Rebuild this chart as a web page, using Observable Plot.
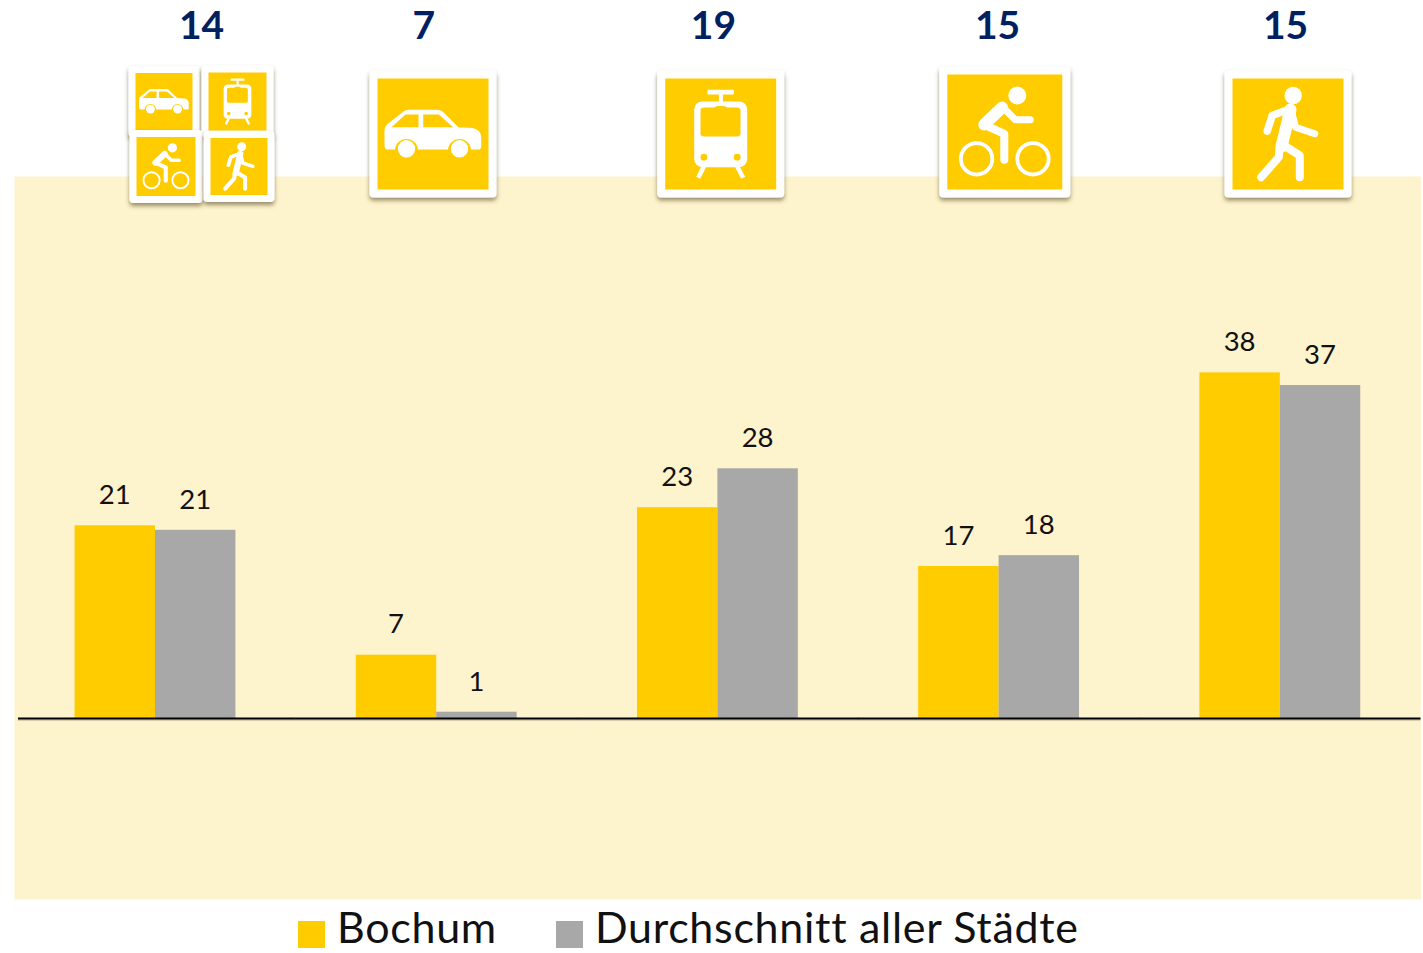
<!DOCTYPE html>
<html lang="de">
<head>
<meta charset="utf-8">
<title>Bochum</title>
<script src="https://cdn.jsdelivr.net/npm/d3@7"></script>
<script src="https://cdn.jsdelivr.net/npm/@observablehq/plot@0.6"></script>
<style>
  html, body { margin: 0; padding: 0; background: #fff; }
  #chart svg { display: block; }
  #legend { position: relative; height: 48px; font-family: Lato, sans-serif; font-size: 43px; letter-spacing: 0.7px; line-height: 48px; color: #111; display: flex; align-items: center; padding-left: 298px; }
  #legend .item { display: flex; align-items: center; }
  #legend .sw { width: 27px; height: 27px; margin-right: 12px; margin-top: 10px; }
  #legend .lab { position: relative; top: -2px; }
  #legend .item + .item { margin-left: 59px; }
</style>
</head>
<body>
<div id="chart"></div>
<div id="legend"></div>
<script>
const categories = ["Alle", "Auto", "ÖPNV", "Rad", "Fuß"];
const seriesNames = ["Bochum", "Durchschnitt aller Städte"];
const bochumValues = [21.3, 7.0, 23.3, 16.8, 38.2];
const averageValues = [20.8, 0.7, 27.6, 18.0, 36.8];
const bochumLabels = ["21", "7", "23", "17", "38"];
const averageLabels = ["21", "1", "28", "18", "37"];
const headlineValues = ["14", "7", "19", "15", "15"];

const YELLOW = "#FFCC00", GREY = "#A8A8A8", PANEL = "#FDF3CD", NAVY = "#002060";

const rows = categories.flatMap((category, i) => [
  {category, series: seriesNames[0], value: bochumValues[i], label: bochumLabels[i]},
  {category, series: seriesNames[1], value: averageValues[i], label: averageLabels[i]}
]);

// Pictograms; car, tram and walker are drawn on a 111-unit yellow square, the bike on 115 units
const line = (d, w) => `<path d="${d}" fill="none" stroke="#fff" stroke-width="${w}" stroke-linecap="round" stroke-linejoin="round"/>`;
const glyphUnits = {car: 111, tram: 111, walk: 111, bike: 115};
const glyphs = {
  car: `<path fill="#fff" d="M10 71Q7 71 7 66V52Q7 47 12 44L26 33Q28 31.3 31 31.3H60Q63 31.3 65 33L81 48.7L95 49.5Q103.7 51 103.7 59V68Q103.7 71 101 71Z"/>
        <path fill="${YELLOW}" d="M14 48.7L28 36H41V48.7ZM45.7 36H61.3L75.7 48.7H45.7Z"/>
        <path fill="${YELLOW}" d="M17.5 72A11.5 11.5 0 0 1 40.5 72ZM70.5 72A11.5 11.5 0 0 1 93.5 72Z"/>
        <circle cx="29" cy="70.3" r="8.7" fill="#fff"/><circle cx="82" cy="70.3" r="8.7" fill="#fff"/>`,
  tram: `<rect x="42.3" y="11.3" width="26.4" height="4.7" fill="#fff" rx="0.8"/><rect x="53.7" y="15" width="4" height="9" fill="#fff"/>
        <rect x="29" y="23" width="53" height="65.7" rx="8" fill="#fff"/>
        <path fill="${YELLOW}" d="M39 29H49L52 27.5H59L62 29H72Q75.3 29 75.3 32V55Q75.3 58 72 58H39Q35.3 58 35.3 55V32Q35.3 29 39 29Z"/>
        <circle cx="38.7" cy="78.7" r="3.4" fill="${YELLOW}"/><circle cx="72" cy="78.7" r="3.4" fill="${YELLOW}"/>
        <path d="M38.7 88L33 99.3M72 88L78 99.3" stroke="#fff" stroke-width="4.5" fill="none"/>`,
  bike: `<circle cx="70" cy="21" r="9" fill="#fff"/>
        <circle cx="29.3" cy="84.3" r="15.7" fill="none" stroke="#fff" stroke-width="3.8"/><circle cx="85.7" cy="84.3" r="15.7" fill="none" stroke="#fff" stroke-width="3.8"/>
        ${line("M83 45.3H68L54.7 32", 7)}${line("M54.7 33L37 50", 12)}${line("M36.5 50L57 59.3V85.3", 8)}`,
  walk: `<circle cx="60.7" cy="17" r="8.7" fill="#fff"/>
        ${line("M34.7 52.7L39.7 37L58 30.3", 7.5)}${line("M58 31L49 68", 12)}${line("M59 33L63 48.7L82.3 55.3", 7)}
        ${line("M47 70L46.3 78.7L28.7 98.7", 8)}${line("M50 66L67.3 77V98.7", 8)}`
};

function iconUrl(glyph, box, border) {
  const pad = 14, tile = box + 2 * border, size = tile + 2 * pad, k = box / glyphUnits[glyph];
  const svg = `<svg xmlns="http://www.w3.org/2000/svg" width="${size}" height="${size}" viewBox="0 0 ${size} ${size}">
    <defs><filter id="s" x="-20%" y="-20%" width="140%" height="140%"><feDropShadow dx="0" dy="3" stdDeviation="2.2" flood-color="#4a3a10" flood-opacity="0.55"/></filter></defs>
    <rect x="${pad}" y="${pad}" width="${tile}" height="${tile}" rx="4" fill="#fff" filter="url(#s)"/>
    <g transform="translate(${pad + border} ${pad + border})"><rect width="${box}" height="${box}" fill="${YELLOW}"/><g transform="scale(${k})">${glyphs[glyph]}</g></g>
  </svg>`;
  return {url: "data:image/svg+xml," + encodeURIComponent(svg), size};
}

// Icon placement relative to each group's centre and the panel's top edge
const iconPlacement = [
  {category: "Alle", glyph: "car",  box: 57,  border: 7, dx: 8.5,  dy: -75},
  {category: "Alle", glyph: "tram", box: 58,  border: 7, dx: 82,   dy: -75},
  {category: "Alle", glyph: "bike", box: 59,  border: 7, dx: 10.5, dy: -10},
  {category: "Alle", glyph: "walk", box: 57,  border: 7, dx: 83.5, dy: -10},
  {category: "Auto", glyph: "car",  box: 111, border: 8, dx: -3.7, dy: -42.5},
  {category: "ÖPNV", glyph: "tram", box: 111, border: 8, dx: 2.8,  dy: -42.5},
  {category: "Rad",  glyph: "bike", box: 115, border: 8, dx: 5.7,  dy: -44.5},
  {category: "Fuß",  glyph: "walk", box: 111, border: 8, dx: 7.7,  dy: -42.5}
];
const headlineDx = [46, -13, -4.4, -1.6, 5.2];

// The baseline runs through the gaps between groups, so each group's rule reaches half a gap outwards
const baseline = (dy, stroke, strokeWidth, strokeOpacity) => [
  Plot.ruleY(categories.slice(0, 1), {fx: d => d, y: () => 0, dy, insetLeft: -56.6, insetRight: -60.3, stroke, strokeWidth, strokeOpacity}),
  Plot.ruleY(categories.slice(1), {fx: d => d, y: () => 0, dy, insetLeft: -60.3, insetRight: -60.3, stroke, strokeWidth, strokeOpacity})
];

const width = 1423, height = 905;
const chart = Plot.plot({
  width, height,
  marginTop: 176, marginBottom: height - 899, marginLeft: 14.4, marginRight: 2.6,
  style: {fontFamily: "Lato, sans-serif", background: "#fff", color: "#111"},
  fx: {domain: categories, paddingInner: 0.428, paddingOuter: 0.214, round: false, axis: null},
  x: {domain: seriesNames, padding: 0, round: false, axis: null},
  y: {domain: [-20, 59.9], axis: null},
  color: {domain: seriesNames, range: [YELLOW, GREY]},
  marks: [
    Plot.frame({facet: "super", fill: PANEL, stroke: "none", insetLeft: -60.6, insetRight: -60.2}),
    Plot.barY(rows, {fx: "category", x: "series", y: "value", fill: "series"}),
    ...baseline(1.5, "#6b6654", 1.5, 0.35),
    ...baseline(0, "#000", 2, 1),
    Plot.text(rows, {fx: "category", x: "series", y: "value", text: "label", dx: -0.5, dy: -30.5, lineAnchor: "middle", fontSize: 27.5, fill: "#111"}),
    ...categories.map((category, i) => Plot.text([headlineValues[i]], {
      fx: () => category, text: d => d, frameAnchor: "top", lineAnchor: "bottom",
      dx: headlineDx[i], dy: -138, fontSize: 39, fontWeight: 700, fill: NAVY, letterSpacing: "1.5px"
    })),
    ...iconPlacement.map(p => {
      const {url, size} = iconUrl(p.glyph, p.box, p.border);
      return Plot.image([p], {fx: "category", src: () => url, width: size, height: size, frameAnchor: "top", dx: p.dx, dy: p.dy});
    })
  ]
});
document.getElementById("chart").append(chart);

const legend = document.getElementById("legend");
seriesNames.forEach((name, i) => {
  const item = document.createElement("div");
  item.className = "item";
  const sw = document.createElement("span");
  sw.className = "sw";
  sw.style.background = [YELLOW, GREY][i];
  const label = document.createElement("span");
  label.className = "lab";
  label.textContent = name;
  item.append(sw, label);
  legend.append(item);
});
</script>
</body>
</html>
